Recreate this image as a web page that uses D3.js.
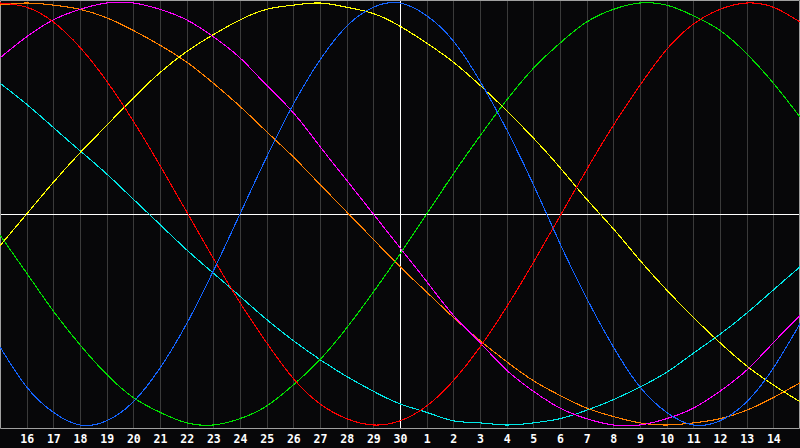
<!doctype html>
<html lang="en">
<head>
    <meta charset="utf-8">
    <style>
      body { margin: 0; background: #070709; }
      text { font-family: "DejaVu Sans Mono", monospace; font-weight: bold; font-size: 11px; }
    </style>
</head>
<body>
    <script src="https://d3js.org/d3.v7.min.js" charset="utf-8"></script>
    <div id="chart"></div>
    <script>
        // dates along the bottom, one per grid column (first and last sit on the chart edges)
        var dates = [15, 16, 17, 18, 19, 20, 21, 22, 23, 24, 25, 26, 27, 28, 29, 30,
                     1, 2, 3, 4, 5, 6, 7, 8, 9, 10, 11, 12, 13, 14, 15];
        var todayIndex = 15;   // the 30th, marked by the white line

        // cycle values in percent, one per date above
        var blue    = [-63, -82, -94, -100, -98, -89, -73, -52, -27, 0, 27, 52, 73, 89, 98, 100,
                       94, 82, 63, 40, 14, -14, -40, -63, -82, -94, -100, -98, -89, -73, -52];
        var red     = [100, 98, 91, 79, 63, 44, 23, 1, -21, -42, -61, -78, -90, -97, -100, -98,
                       -91, -79, -63, -44, -23, -1, 21, 42, 61, 78, 90, 97, 100, 98, 91];
        var green   = [-10, -28, -46, -62, -76, -87, -94, -99, -100, -97, -91, -81, -69, -54, -37, -19,
                       0, 19, 37, 54, 69, 81, 91, 97, 100, 99, 94, 87, 76, 62, 46];
        var magenta = [74, 84, 92, 97, 100, 100, 97, 92, 84, 74, 61, 48, 32, 16, 0, -16,
                       -32, -48, -61, -74, -84, -92, -97, -100, -100, -97, -92, -84, -74, -61, -48];
        var yellow  = [-15, 0, 15, 29, 42, 55, 67, 77, 85, 92, 97, 99, 100, 98, 95, 89,
                       81, 72, 61, 49, 36, 22, 7, -7, -22, -36, -49, -61, -72, -81, -89];
        var orange  = [99, 100, 99, 97, 93, 87, 80, 72, 62, 51, 39, 27, 14, 1, -12, -25,
                       -37, -49, -60, -70, -79, -86, -92, -96, -99, -100, -99, -97, -93, -87, -80];
        var cyan    = [62, 52, 41, 30, 19, 7, -5, -17, -28, -39, -50, -60, -69, -77, -84, -90,
                       -94, -98, -99, -100, -99, -97, -93, -88, -82, -75, -66, -57, -47, -36, -25];

        var series = [
            {name: "cyan", values: cyan, color: "#00e8e8"},
            {name: "orange", values: orange, color: "#ff8000"},
            {name: "yellow", values: yellow, color: "#ffff00"},
            {name: "magenta", values: magenta, color: "#ff00ff"},
            {name: "green", values: green, color: "#00e000"},
            {name: "red", values: red, color: "#ff0000"},
            {name: "blue", values: blue, color: "#1464ff"}
        ];

        var width = 800;
        var height = 448;
        var plotBottom = 428;

        var svg = d3.select("#chart")
                    .append("svg")
                    .attr("width", width)
                    .attr("height", height)
                    .style("display", "block")
                    .style("background", "#070709");

        var x = d3.scaleLinear().domain([0, dates.length - 1]).range([0, width]);
        var y = d3.scaleLinear().domain([-100, 100]).range([425, 3]);

        var tickIdx = d3.range(1, dates.length - 1);

        // vertical day grid
        svg.append("g")
           .selectAll("line")
           .data(tickIdx)
           .enter()
           .append("line")
           .attr("x1", function(d) { return Math.round(x(d)) + 0.5; })
           .attr("x2", function(d) { return Math.round(x(d)) + 0.5; })
           .attr("y1", 1)
           .attr("y2", plotBottom)
           .attr("stroke", function(d) { return d === todayIndex ? "#ffffff" : "#3a3a3a"; })
           .attr("stroke-width", 1);

        // zero line
        svg.append("line")
           .attr("x1", 1).attr("x2", width - 1)
           .attr("y1", Math.round(y(0)) + 0.5).attr("y2", Math.round(y(0)) + 0.5)
           .attr("stroke", "#ffffff");

        // frame
        svg.append("path")
           .attr("d", "M0.5," + (plotBottom + 0.5) + "V0.5H" + (width - 0.5) + "V" + (plotBottom + 0.5) + "H0.5")
           .attr("fill", "none")
           .attr("stroke", "#a0a0a0");

        // cycles
        var line = d3.line()
                     .x(function(d, i) { return x(i); })
                     .y(function(d) { return y(d); })
                     .curve(d3.curveNatural);

        svg.append("g")
           .selectAll("path")
           .data(series)
           .enter()
           .append("path")
           .attr("d", function(d) { return line(d.values); })
           .attr("fill", "none")
           .attr("stroke", function(d) { return d.color; })
           .attr("stroke-width", 1.1)
           .attr("shape-rendering", "crispEdges");

        // date labels
        var axis = d3.axisBottom(x)
                     .tickValues(tickIdx)
                     .tickFormat(function(i) { return dates[i]; })
                     .tickSize(0)
                     .tickPadding(0);

        var gx = svg.append("g")
                    .attr("transform", "translate(0," + (plotBottom + 7) + ")")
                    .call(axis);
        gx.select(".domain").remove();
        gx.selectAll("text")
          .attr("fill", "#ffffff")
          .attr("dy", "0.71em")
          .style("font-family", "'DejaVu Sans Mono', monospace")
          .style("font-weight", "bold")
          .style("font-size", "11.5px");
    </script>
</body>
</html>
